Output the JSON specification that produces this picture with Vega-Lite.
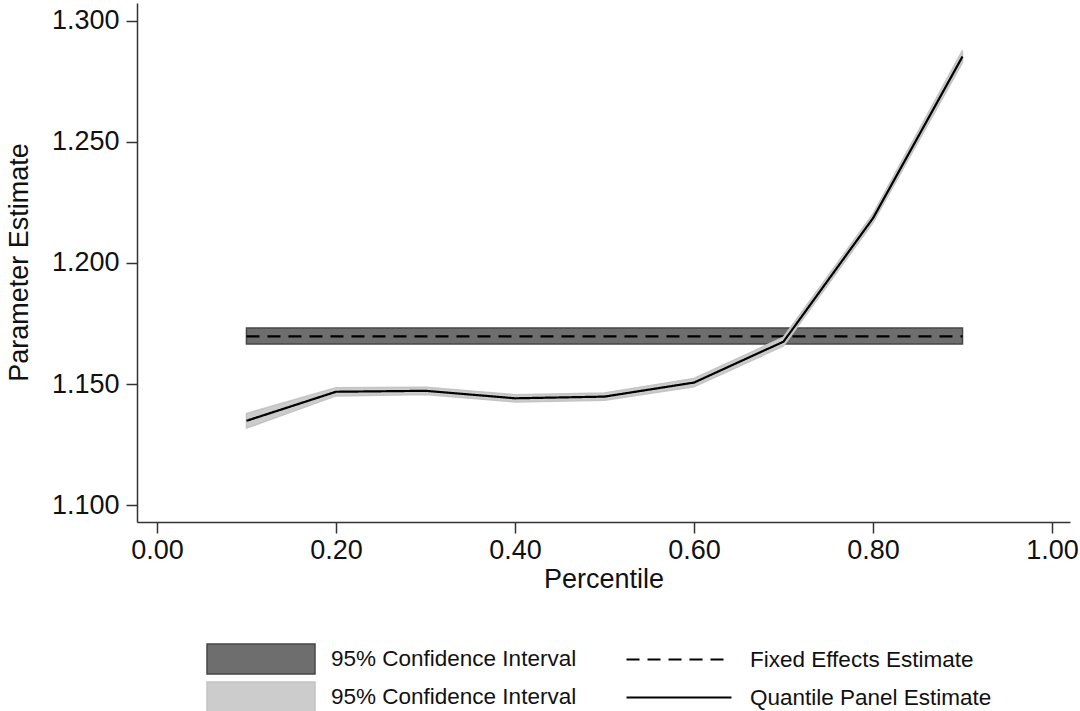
{
  "$schema": "https://vega.github.io/schema/vega-lite/v6.json",
  "width": 933,
  "height": 519,
  "autosize": {"type": "none"},
  "padding": {"left": 137, "top": 3, "right": 10, "bottom": 189},
  "background": "white",
  "config": {
    "font": "Liberation Sans",
    "view": {"stroke": null},
    "axis": {
      "grid": false,
      "domainColor": "#333333",
      "domainWidth": 1.5,
      "tickColor": "#333333",
      "tickWidth": 1.5,
      "tickSize": 11,
      "labelFont": "Liberation Sans",
      "labelFontSize": 27,
      "labelColor": "#111111",
      "titleFont": "Liberation Sans",
      "titleFontSize": 27,
      "titleFontWeight": "normal",
      "titleColor": "#111111"
    },
    "legend": {
      "labelFont": "Liberation Sans",
      "labelFontSize": 22.5,
      "labelColor": "#111111",
      "labelLimit": 0
    }
  },
  "data": {
    "values": [
      {"p": 0.1, "est": 1.1697, "lo": 1.1665, "hi": 1.1731, "band": "FE band", "line": "Fixed Effects Estimate"},
      {"p": 0.9, "est": 1.1697, "lo": 1.1665, "hi": 1.1731, "band": "FE band", "line": "Fixed Effects Estimate"},
      {"p": 0.1, "est": 1.1348, "lo": 1.1318, "hi": 1.1378, "band": "QP band", "line": "Quantile Panel Estimate"},
      {"p": 0.2, "est": 1.1468, "lo": 1.1451, "hi": 1.1485, "band": "QP band", "line": "Quantile Panel Estimate"},
      {"p": 0.3, "est": 1.1472, "lo": 1.1457, "hi": 1.1487, "band": "QP band", "line": "Quantile Panel Estimate"},
      {"p": 0.4, "est": 1.1441, "lo": 1.1426, "hi": 1.1456, "band": "QP band", "line": "Quantile Panel Estimate"},
      {"p": 0.5, "est": 1.1448, "lo": 1.1433, "hi": 1.1463, "band": "QP band", "line": "Quantile Panel Estimate"},
      {"p": 0.6, "est": 1.1506, "lo": 1.1489, "hi": 1.1523, "band": "QP band", "line": "Quantile Panel Estimate"},
      {"p": 0.7, "est": 1.1675, "lo": 1.1657, "hi": 1.1693, "band": "QP band", "line": "Quantile Panel Estimate"},
      {"p": 0.8, "est": 1.2185, "lo": 1.2167, "hi": 1.2203, "band": "QP band", "line": "Quantile Panel Estimate"},
      {"p": 0.9, "est": 1.2853, "lo": 1.2828, "hi": 1.2878, "band": "QP band", "line": "Quantile Panel Estimate"}
    ]
  },
  "encoding": {
    "x": {
      "field": "p",
      "type": "quantitative",
      "scale": {"domain": [-0.0223, 1.0201], "nice": false, "zero": false},
      "axis": {
        "title": "Percentile",
        "values": [0, 0.2, 0.4, 0.6, 0.8, 1.0],
        "format": ".2f",
        "labelPadding": 4,
        "titleBaseline": "alphabetic",
        "titleY": 65
      }
    },
    "y": {
      "field": "est",
      "type": "quantitative",
      "scale": {"domain": [1.093, 1.3074], "nice": false, "zero": false},
      "axis": {
        "title": "Parameter Estimate",
        "values": [1.1, 1.15, 1.2, 1.25, 1.3],
        "format": ".3f",
        "labelPadding": 7,
        "titleAngle": -90,
        "titleBaseline": "alphabetic",
        "titleAlign": "center",
        "titleX": -110,
        "titleY": 259
      }
    }
  },
  "layer": [
    {
      "transform": [{"filter": "datum.band === 'FE band'"}],
      "mark": {"type": "area", "strokeWidth": 1.5},
      "encoding": {
        "y": {"field": "lo", "type": "quantitative"},
        "y2": {"field": "hi"},
        "fill": {
          "field": "band",
          "type": "nominal",
          "scale": {"domain": ["FE band", "QP band"], "range": ["#6e6e6e", "#cccccc"]},
          "legend": {
            "title": null,
            "orient": "none",
            "legendX": 69,
            "legendY": 640,
            "direction": "vertical",
            "symbolType": "M-1,-1H6.2V1H-1Z",
            "symbolSize": 900,
            "symbolStrokeWidth": 1.5,
            "symbolOpacity": 1,
            "labelOffset": 93,
            "rowPadding": 2,
            "labelExpr": "'95% Confidence Interval'"
          }
        },
        "stroke": {
          "field": "band",
          "type": "nominal",
          "scale": {"domain": ["FE band", "QP band"], "range": ["#474747", "#c4c4c4"]},
          "legend": null
        }
      }
    },
    {
      "transform": [{"filter": "datum.band === 'FE band'"}],
      "mark": {"type": "line", "color": "#000000", "strokeWidth": 2.2},
      "encoding": {
        "strokeDash": {
          "field": "line",
          "type": "nominal",
          "scale": {"domain": ["Fixed Effects Estimate", "Quantile Panel Estimate"], "range": [[13, 8], [1, 0]]},
          "legend": {
            "title": null,
            "orient": "none",
            "legendX": 488,
            "legendY": 640,
            "direction": "vertical",
            "symbolType": "M-1,0H6",
            "symbolSize": 900,
            "symbolStrokeWidth": 2.2,
            "symbolStrokeColor": "#000000",
            "labelOffset": 92,
            "rowPadding": 10
          }
        }
      }
    },
    {
      "transform": [{"filter": "datum.band === 'QP band'"}],
      "mark": {"type": "area", "strokeWidth": 1.5},
      "encoding": {
        "y": {"field": "lo", "type": "quantitative"},
        "y2": {"field": "hi"},
        "fill": {"field": "band", "type": "nominal"},
        "stroke": {"field": "band", "type": "nominal"}
      }
    },
    {
      "transform": [{"filter": "datum.band === 'QP band'"}],
      "mark": {"type": "line", "color": "#000000", "strokeWidth": 2.2},
      "encoding": {
        "strokeDash": {"field": "line", "type": "nominal"}
      }
    }
  ]
}
